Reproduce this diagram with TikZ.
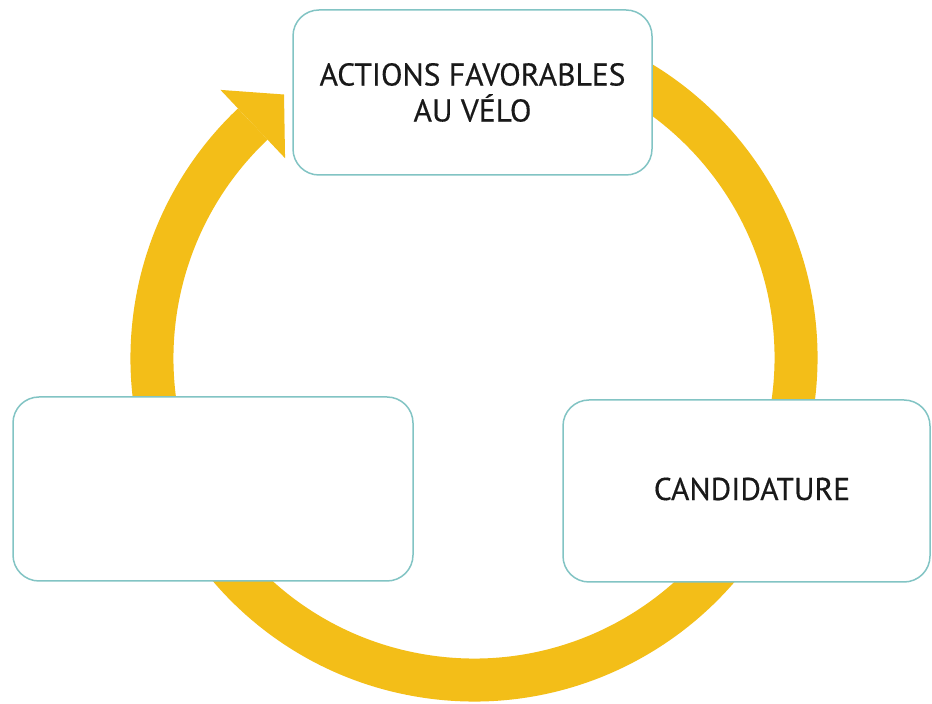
\documentclass[tikz,border=0pt]{standalone}
\usepackage{fontspec}
\setmainfont{PT Sans}
\newfontface\stageface{PT Sans}[FakeBold=0.35]
\definecolor{ringyellow}{RGB}{243,190,24}
\definecolor{boxteal}{RGB}{130,196,196}
\definecolor{txtdark}{RGB}{25,25,25}
\tikzset{
  stagefont/.style={font=\stageface\fontsize{31.5}{36}\selectfont, text=txtdark},
  stagebox/.style={draw=boxteal, line width=1.5pt, fill=white, rounded corners=26pt,
    minimum width=#1, inner sep=0pt, align=center, stagefont},
}
\begin{document}
\begin{tikzpicture}[x=1pt,y=1pt]
\fill[white] (0,0) rectangle (932,704);
\useasboundingbox (0,0) rectangle (932,704);
\coordinate (c) at (474,346);
% ring
\draw[ringyellow, line width=43pt] ([shift={(80:322pt)}]c) arc[start angle=80, end angle=-226.6, radius=322pt];
\coordinate (base) at ([shift={(133.4:322pt)}]c);
\coordinate (bout) at ([shift={(133.4:369pt)}]c);
\coordinate (bin) at ([shift={(133.4:275pt)}]c);
\coordinate (tip) at ([shift={(43.4:43pt)}]base);
\fill[ringyellow] (bout) -- (tip) -- (bin) -- cycle;
% boxes
\node[stagebox=359pt, minimum height=165pt] (top) at (472.5,611.5) {ACTIONS FAVORABLES\\AU VÉLO};
\node[stagebox=400pt, minimum height=184pt] (left) at (213,215) {};
\node[stagebox=367pt, minimum height=182pt] (right) at (746.5,213) {};
\node[stagefont] (cand) at (752,215) {CANDIDATURE};
\end{tikzpicture}
\end{document}
